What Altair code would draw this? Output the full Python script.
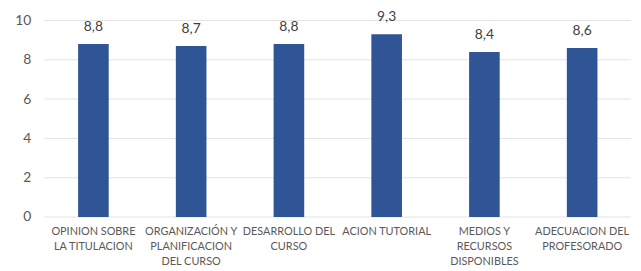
import altair as alt
import pandas as pd

categories = [
    "OPINION SOBRE\nLA TITULACION",
    "ORGANIZACIÓN Y\nPLANIFICACION\nDEL CURSO",
    "DESARROLLO DEL\nCURSO",
    "ACION TUTORIAL",
    "MEDIOS Y\nRECURSOS\nDISPONIBLES",
    "ADECUACION DEL\nPROFESORADO",
]
values = [8.8, 8.7, 8.8, 9.3, 8.4, 8.6]
y_ticks = [0, 2, 4, 6, 8, 10]

df = pd.DataFrame({"cat": categories, "val": values})
df["label"] = [f"{v:.1f}".replace(".", ",") for v in values]
grid_df = pd.DataFrame({"t": y_ticks})

FONT = "Lato"
GRAY = "#595959"
W, H = 594, 199

x_enc = alt.X(
    "cat:N",
    sort=categories,
    title=None,
    axis=alt.Axis(
        labelAngle=0,
        labelExpr="split(datum.label, '\\n')",
        labelFont=FONT,
        labelFontSize=11,
        labelColor=GRAY,
        labelLimit=0,
        labelLineHeight=15,
        labelPadding=9,
        labelBaseline="top",
        ticks=False,
        domain=False,
        grid=False,
    ),
    scale=alt.Scale(paddingInner=0, paddingOuter=0),
)
y_scale = alt.Scale(domain=[0, 10], nice=False)
y_axis = alt.Axis(
    values=y_ticks,
    labelFont=FONT,
    labelFontSize=14,
    labelColor=GRAY,
    labelPadding=14,
    labelOverlap=False,
    labelFlush=False,
    ticks=False,
    domain=False,
    grid=False,
)
y_enc = alt.Y("val:Q", title=None, scale=y_scale, axis=y_axis)

grid = alt.Chart(grid_df).mark_tick(
    orient="horizontal", thickness=1, size=W, color="#D9D9D9"
).encode(y=alt.Y("t:Q", scale=y_scale, title=None, axis=y_axis))

base = alt.Chart(df)

bars = base.mark_bar(color="#2F5597", size=31).encode(x=x_enc, y=y_enc)

text = base.mark_text(
    dy=-10, baseline="bottom", font=FONT, fontSize=14, color="#404040"
).encode(x=x_enc, y=y_enc, text="label:N")

frame = base.mark_rect(color="#D9D9D9").encode(
    x=alt.value(-43), x2=alt.value(-41), y=alt.value(-19), y2=alt.value(252)
)

chart = (
    alt.layer(grid, bars, text, frame)
    .properties(
        width=W,
        height=H,
        background="white",
        autosize=alt.AutoSizeParams(type="none"),
        padding={"left": 37, "top": 11, "right": 2, "bottom": 52},
    )
    .configure_view(stroke=None)
)

chart.save("out.html", embed_options={"renderer": "svg", "actions": False})
